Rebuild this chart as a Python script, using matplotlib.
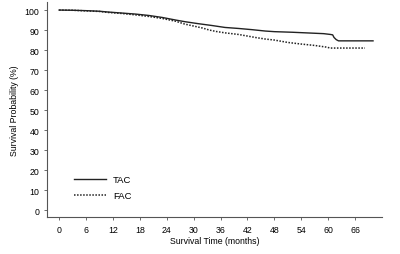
import matplotlib
matplotlib.use("Agg")
import matplotlib.pyplot as plt

tac_t = [0, 3, 6, 9, 11, 14, 17, 20, 23, 26, 28, 31, 34, 37, 40, 43, 46, 48, 52, 56, 59, 60.5, 61, 61.3, 61.8, 62.3, 70]
tac_s = [100, 99.9, 99.7, 99.4, 99.0, 98.5, 98.0, 97.3, 96.3, 95.0, 94.2, 93.2, 92.3, 91.3, 90.8, 90.2, 89.5, 89.2, 88.9, 88.5, 88.2, 87.8, 87.6, 86.3, 85.2, 84.6, 84.6]
fac_t = [0, 3, 6, 9, 11, 14, 17, 20, 23, 26, 28, 30, 32, 33.5, 35, 37, 40, 42, 44, 46, 48, 51, 54, 57, 59.5, 60.5, 68.2]
fac_s = [100, 99.9, 99.6, 99.3, 98.8, 98.3, 97.6, 96.8, 95.8, 94.4, 93.0, 92.0, 91.0, 90.0, 89.3, 88.6, 87.8, 87.0, 86.2, 85.5, 85.0, 83.8, 83.0, 82.3, 81.5, 81.0, 81.0]
xticks = list(range(0, 67, 6))
yticks = list(range(0, 101, 10))

plt.rcParams['font.family'] = ['Liberation Sans', 'DejaVu Sans']
fig = plt.figure(figsize=(4, 2.55), dpi=100)
ax = fig.add_axes([0.1175, 0.145, 0.8375, 0.843])
ax.plot(tac_t, tac_s, color='#222222', lw=1.0, label='TAC')
ax.plot(fac_t, fac_s, color='#222222', lw=1.1, linestyle=(0, (1, 1)), label='FAC')
ax.set_xlim(-2.7, 72)
ax.set_ylim(-3.5, 104)
ax.set_xticks(xticks)
ax.set_yticks(yticks)
for s in ['top', 'right']:
    ax.spines[s].set_visible(False)
for s in ['left', 'bottom']:
    ax.spines[s].set_color('#555555')
    ax.spines[s].set_linewidth(0.8)
ax.tick_params(axis='both', labelsize=6.3, length=2.5, width=0.6, color='#555555', pad=3)
ax.set_xlabel('Survival Time (months)', fontsize=6.3, labelpad=2)
ax.set_ylabel('Survival Probability (%)', fontsize=6.3, labelpad=4)
ax.legend(loc='lower left', bbox_to_anchor=(0.054, 0.04), frameon=False, fontsize=6.8,
          handlelength=3.4, handletextpad=0.75, labelspacing=0.7)
fig.savefig('out.png', dpi=100)
